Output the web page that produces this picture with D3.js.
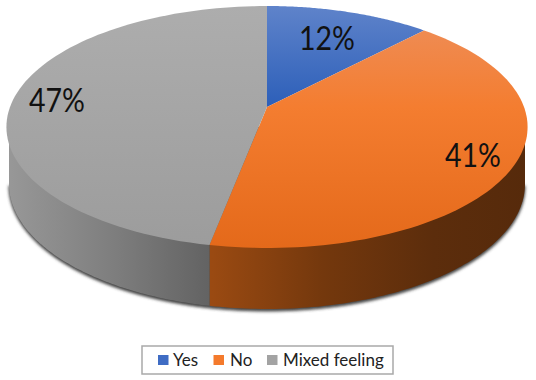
<!DOCTYPE html>
<html><head><meta charset="utf-8">
<script src="https://cdn.jsdelivr.net/npm/d3@7"></script>
<style>html,body{margin:0;background:#fff}svg{display:block}</style></head>
<body><svg id="c" width="536" height="380"></svg>
<script>
const categories = ["Yes", "No", "Mixed feeling"];
const values = [12, 41, 47];
const labels = ["12%", "41%", "47%"];
const svg = d3.select("#c");
const cx = 267, k = 257, c = 0.1653, ya = 107, b = -100;
const proj = (a, r = 1) => {
  const u = r * Math.sin(a), v = r * Math.cos(a), d = 1 + c * v;
  return [cx + k * u / d, (ya + b * v) / d];
};
const pie = d3.pie().sort(null).value(d => d);
const arcs = pie(values);
const line = d3.line();
const N = 90;
const rim = (a0, a1) => d3.range(N + 1).map(i => proj(a0 + (a1 - a0) * i / N));
const defs = svg.append("defs");
function grad(id, x1, y1, x2, y2, stops) {
  const g = defs.append("linearGradient").attr("id", id).attr("gradientUnits", "userSpaceOnUse")
    .attr("x1", x1).attr("y1", y1).attr("x2", x2).attr("y2", y2);
  stops.forEach(s => g.append("stop").attr("offset", s[0]).attr("stop-color", s[1]));
}
grad("t0", 0, 6, 0, 107, [[0, "#5f83ca"], [1, "#2c5fb9"]]);
grad("t1", 0, 30, 0, 250, [[0, "#ef8b52"], [0.35, "#f47d30"], [1, "#e4691a"]]);
grad("t2", 0, 6, 0, 250, [[0, "#adadad"], [1, "#9c9c9c"]]);
grad("s1", 212, 0, 528, 0, [[0, "#9a4a12"], [0.35, "#74380d"], [0.7, "#5c2d0c"], [1, "#562a0b"]]);
grad("s2", 7, 0, 212, 0, [[0, "#989898"], [0.5, "#7f7f7f"], [1, "#626262"]]);
defs.append("filter").attr("id", "sh").attr("x", "-5%").attr("y", "-5%").attr("width", "110%").attr("height", "110%")
  .append("feGaussianBlur").attr("stdDeviation", 1.6);
// base outline: the lower rim of the pie
const bx = 267, by = 184, brx = 258, bry = 125;
const base = t => [bx + brx * Math.cos(t), by + bry * Math.sin(t)];
const divX = proj(arcs[1].endAngle)[0];
const tDiv = Math.acos((divX - bx) / brx);
const arcPts = (t0, t1) => d3.range(N + 1).map(i => base(t0 + (t1 - t0) * i / N));
// soft shadow
svg.append("path").attr("d", line(arcPts(0, Math.PI)) + "Z")
  .attr("transform", "translate(0,2)").attr("fill", "#444").attr("stroke", "#444").attr("filter", "url(#sh)");
// side walls
svg.append("path").attr("d", line([[divX, 127], [bx + brx, 127]].concat(arcPts(0, tDiv))) + "Z").attr("fill", "url(#s1)");
svg.append("path").attr("d", line([[divX, 127]].concat(arcPts(tDiv, Math.PI)).concat([[bx - brx, 127]])) + "Z").attr("fill", "url(#s2)");
// top faces
const fills = ["url(#t0)", "url(#t1)", "url(#t2)"];
svg.selectAll("path.top").data(arcs).join("path").attr("class", "top")
  .attr("d", d => line([proj(0, 0)].concat(rim(d.startAngle, d.endAngle))) + "Z")
  .attr("fill", (d, i) => fills[i]);
const labelPos = [[327, 50], [473, 167], [57, 112]];
svg.selectAll("text.v").data(labels).join("text").attr("class", "v")
  .attr("x", (d, i) => labelPos[i][0]).attr("y", (d, i) => labelPos[i][1])
  .attr("text-anchor", "middle")
  .attr("textLength", 56).attr("lengthAdjust", "spacingAndGlyphs")
  .attr("font-family", "Lato, sans-serif").attr("font-size", 32).attr("fill", "#111").text(d => d);
// legend
svg.append("rect").attr("x", 142).attr("y", 346).attr("width", 251).attr("height", 28)
  .attr("fill", "#fff").attr("stroke", "#a9a9a9").attr("stroke-width", 1.5);
const swatch = ["#3f6cc4", "#f47a2c", "#a3a3a3"];
const lx = [158, 213.5, 267];
const lt = [15, 16.5, 16];
const lg = svg.selectAll("g.l").data(categories).join("g").attr("class", "l")
  .attr("transform", (d, i) => `translate(${lx[i]},0)`);
lg.append("rect").attr("y", 355).attr("width", 10.5).attr("height", 10).attr("fill", (d, i) => swatch[i]);
lg.append("text").attr("x", (d, i) => lt[i]).attr("y", 365.5)
  .attr("font-family", "Lato, sans-serif").attr("font-size", 17).attr("fill", "#222").text(d => d);
</script></body></html>
